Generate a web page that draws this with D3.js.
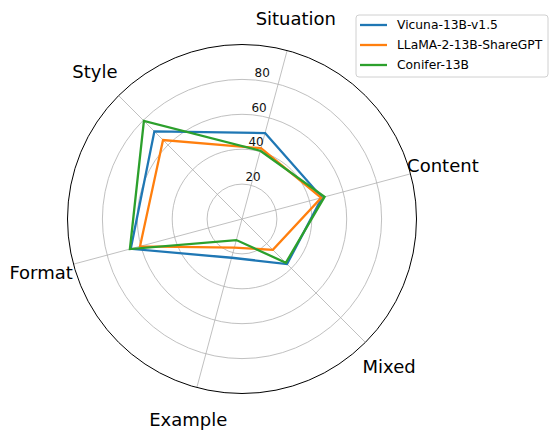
<!DOCTYPE html>
<html>
<head>
<meta charset="utf-8">
<script src="https://cdn.jsdelivr.net/npm/d3@7"></script>
<style>
  body { margin: 0; background: #fff; }
  svg { display: block; font-family: "DejaVu Sans", sans-serif; }
</style>
</head>
<body>
<div id="chart"></div>
<script>
var W = 550, H = 435;
var cx = 242, cy = 219, R = 174.5;

// data
var categories = ["Situation", "Content", "Mixed", "Example", "Format", "Style"];
var seriesNames = ["Vicuna-13B-v1.5", "LLaMA-2-13B-ShareGPT", "Conifer-13B"];
var vicuna = [51, 47.5, 36.5, 23, 66, 71];
var llama = [42, 47, 25, 17, 60.5, 64];
var conifer = [40.5, 49, 35.5, 12.5, 66.5, 79.5];
var rTicks = [20, 40, 60, 80];
var colors = ["#1f77b4", "#ff7f0e", "#2ca02c"];

var allSeries = [vicuna, llama, conifer];

var svg = d3.select("#chart").append("svg")
  .attr("width", W).attr("height", H)
  .attr("viewBox", "0 0 " + W + " " + H);

var page = svg.append("g")
  .attr("transform", "translate(" + cx + " " + cy + ")");

// angles measured clockwise from north, first spoke at 15 deg
var ang = d3.scaleLinear()
  .domain([0, categories.length])
  .range([15 * Math.PI / 180, 15 * Math.PI / 180 + 2 * Math.PI]);
var rad = d3.scaleLinear().domain([0, 100]).range([0, R]);

function px(a, r) { return r * Math.sin(a); }
function py(a, r) { return -r * Math.cos(a); }

// grid circles
page.selectAll(".ring")
  .data(rTicks)
  .enter().append("circle")
  .attr("r", function(d) { return rad(d); })
  .attr("fill", "none")
  .attr("stroke", "#b0b0b0")
  .attr("stroke-width", 0.8);

// spokes
page.selectAll(".spoke")
  .data(categories)
  .enter().append("line")
  .attr("x1", 0).attr("y1", 0)
  .attr("x2", function(d, i) { return px(ang(i), R); })
  .attr("y2", function(d, i) { return py(ang(i), R); })
  .attr("stroke", "#b0b0b0")
  .attr("stroke-width", 0.8);

// outer frame
page.append("circle")
  .attr("r", R)
  .attr("fill", "none")
  .attr("stroke", "#000")
  .attr("stroke-width", 1);

// radial tick labels
var labAng = 5 * Math.PI / 180;
page.selectAll(".rlab")
  .data(rTicks)
  .enter().append("text")
  .attr("x", function(d) { return px(labAng, rad(d)) + 8; })
  .attr("y", function(d) { return py(labAng, rad(d)) - 7; })
  .attr("text-anchor", "middle")
  .attr("dominant-baseline", "central")
  .attr("font-size", "12px")
  .attr("fill", "#111")
  .text(function(d) { return d; });

// category labels
page.selectAll(".clab")
  .data(categories)
  .enter().append("text")
  .attr("x", function(d, i) { return px(ang(i), 208); })
  .attr("y", function(d, i) { return py(ang(i), 208); })
  .attr("text-anchor", "middle")
  .attr("dominant-baseline", "central")
  .attr("font-size", "18px")
  .attr("fill", "#000")
  .text(function(d) { return d; });

// series polygons
var line = d3.lineRadial()
  .angle(function(d, i) { return ang(i); })
  .radius(function(d) { return rad(d); })
  .curve(d3.curveLinearClosed);

page.selectAll(".series")
  .data(allSeries)
  .enter().append("path")
  .attr("d", function(d) { return line(d); })
  .attr("fill", "none")
  .attr("stroke", function(d, i) { return colors[i]; })
  .attr("stroke-width", 2.3)
  .attr("stroke-linejoin", "miter");

// legend
var leg = svg.append("g").attr("transform", "translate(356 15)");
leg.append("rect")
  .attr("width", 192).attr("height", 62)
  .attr("rx", 3)
  .attr("fill", "#fff").attr("fill-opacity", 0.8)
  .attr("stroke", "#d0d0d0").attr("stroke-width", 1);

var items = leg.selectAll(".item")
  .data(seriesNames)
  .enter().append("g")
  .attr("transform", function(d, i) { return "translate(0 " + (10 + i * 20) + ")"; });

items.append("line")
  .attr("x1", 4).attr("x2", 31)
  .attr("y1", 0).attr("y2", 0)
  .attr("stroke", function(d, i) { return colors[i]; })
  .attr("stroke-width", 2.3);

items.append("text")
  .attr("x", 41).attr("y", 0)
  .attr("dominant-baseline", "central")
  .attr("font-size", "12.3px")
  .attr("fill", "#000")
  .text(function(d) { return d; });
</script>
</body>
</html>
